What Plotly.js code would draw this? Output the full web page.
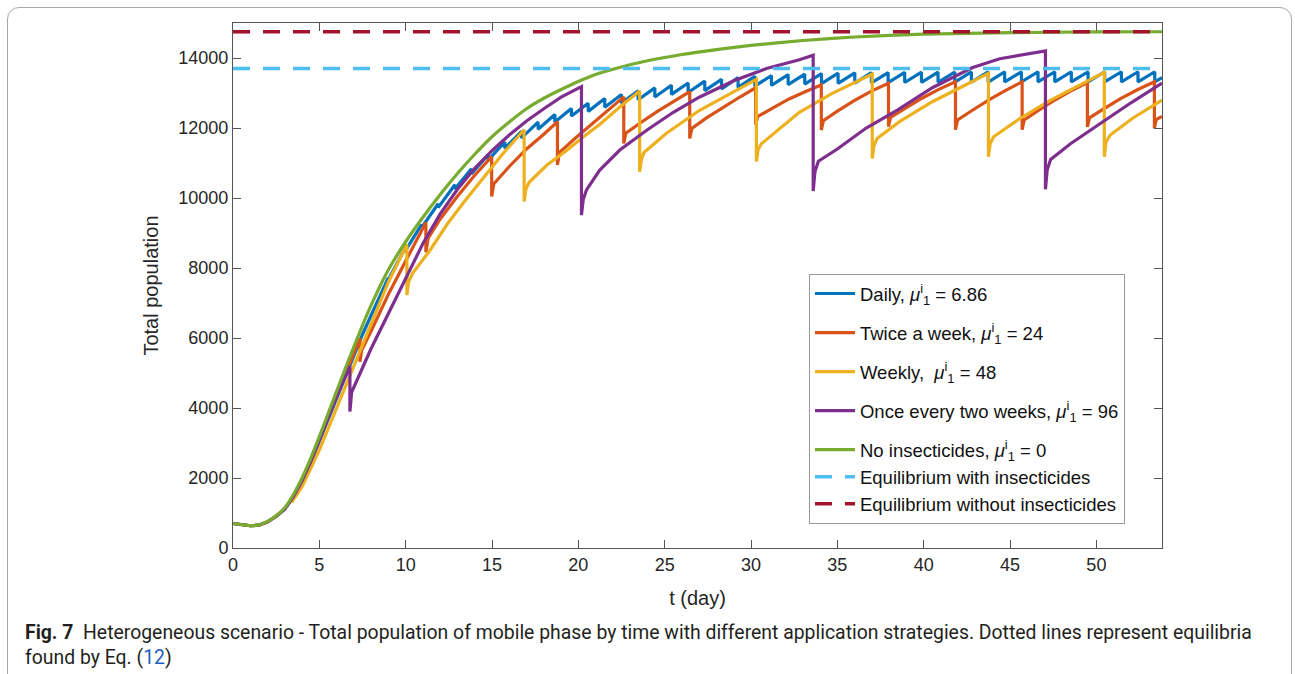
<!DOCTYPE html>
<html>
<head>
<meta charset="utf-8">
<script src="https://cdn.plot.ly/plotly-3.0.1.min.js"></script>
<style>
  html, body { margin: 0; padding: 0; background: #ffffff; }
  #frame { position: absolute; left: 7px; top: 7px; width: 1283px; height: 760px;
           border: 1px solid #a8a8a8; border-radius: 12px; z-index: 0; }
  #chart { position: absolute; left: 0; top: 0; width: 1295px; height: 674px; z-index: 1; }
</style>
</head>
<body>
<div id="frame"></div>
<div id="chart"></div>
<script>
// ---------------- data ----------------
var xMax = 53.8;

// No insecticides
var greenT = [0,0.5,1,1.5,2,2.5,3,3.5,4,4.5,5,5.5,6,6.5,7,7.5,8,9,10,11,12,13,14,15,16,17,18,19,20,21,22,24,26,28,30,33,36,40,45,50,53.8];
var greenV = [700,665,640,660,760,920,1150,1530,2000,2560,3180,3830,4480,5120,5750,6360,6940,7950,8750,9450,10100,10700,11250,11750,12170,12550,12850,13100,13330,13530,13680,13920,14100,14240,14360,14500,14600,14680,14725,14745,14750];

// Daily: smooth early part, then daily drops (time, value before, value after)
var dailyStartT = [0,0.5,1,1.5,2,2.5,3,3.5,4,4.5,5,5.5,6,6.5,7,7.5,8,8.5];
var dailyStartV = [700,662,636,652,745,900,1110,1460,1900,2440,3050,3680,4300,4930,5530,6100,6650,7180];
var dailyDropT = [8.99,9.95,10.92,11.88,12.85,13.81,14.78,15.74,16.71,17.67,18.64,19.6,20.57,21.53,22.5,23.46,24.43,25.39,26.36,27.32,28.29,29.25,30.22,31.18,32.15,33.11,34.08,35.04,36.01,36.97,37.94,38.9,39.87,40.83,41.8,42.76,43.73,44.69,45.66,46.62,47.59,48.55,49.52,50.48,51.45,52.41,53.38];
var dailyPre  = [7720,8550,9240,9835,10380,10835,11240,11600,11905,12170,12385,12560,12710,12840,12960,13060,13145,13220,13285,13340,13390,13440,13475,13500,13525,13540,13555,13565,13575,13580,13585,13590,13595,13597,13600,13601,13603,13605,13605,13607,13607,13607,13607,13607,13607,13607,13607];
var dailyPost = [7660,8470,9150,9725,10255,10695,11080,11420,11715,11965,12170,12340,12475,12595,12710,12805,12885,12960,13015,13070,13115,13160,13195,13220,13240,13255,13265,13275,13285,13290,13295,13300,13305,13307,13310,13311,13313,13315,13315,13317,13317,13317,13317,13317,13317,13317,13317];
var dailyEndT = 53.8, dailyEndV = 13440;

// Twice a week
var twiceT = [0,0.5,1,1.5,2,2.5,3,3.5,4,4.5,5,5.5,6,6.5,7,7.35, 7.35,7.45,8,9,10,11.17, 11.17,11.3,12,13,14,14.98, 14.98,15.1,16,17,18,18.79, 18.79,18.9,19.8,20.8,21.8,22.63, 22.63,22.75,23.6,24.6,25.6,26.45, 26.45,26.57,27.4,28.4,29.4,30.27, 30.27,30.39,31.2,32.2,33.2,34.07, 34.07,34.19,35,36,37,37.96, 37.96,38.08,38.9,39.9,40.9,41.84, 41.84,41.96,42.8,43.8,44.8,45.7, 45.7,45.82,46.6,47.6,48.6,49.48, 49.48,49.6,50.4,51.4,52.4,53.36, 53.36,53.46,53.8];
var twiceV = [700,662,636,652,745,905,1120,1480,1930,2480,3100,3730,4360,4980,5600,6000, 5320,5650,6200,7250,8200,9300, 8450,8850,9400,10050,10650,11180, 10040,10400,10900,11400,11820,12180, 10940,11300,11700,12120,12560,12890, 11560,11850,12150,12480,12780,13040, 11700,11990,12280,12600,12900,13150, 12090,12330,12560,12830,13050,13230, 11940,12210,12480,12790,13060,13280, 12040,12300,12550,12850,13110,13320, 11950,12230,12500,12810,13090,13320, 11950,12230,12490,12800,13080,13300, 12030,12290,12540,12840,13100,13320, 11990,12240,12330];

// Weekly
var weeklyT = [0,0.5,1,1.5,2,2.5,3,3.4, 3.4,3.5,4,5,6,7,8,9,10.07, 10.07,10.17,10.4,11.4,12.4,13.4,14.4,15.6,16.86, 16.86,16.96,17.15,18.2,19.3,20.3,21.3,22.4,23.55, 23.55,23.65,23.8,25.1,27,29,30.31, 30.31,30.41,30.6,32.8,34.7,37.02, 37.02,37.12,37.3,38.6,40.5,42.46,43.75, 43.75,43.85,44.05,45.5,47.3,49.2,50.46, 50.46,50.56,50.8,52.1,53.8];
var weeklyV = [700,662,636,652,745,905,1120,1420, 1300,1380,1750,2800,4000,5200,6400,7600,8680, 7230,7600,7850,8500,9250,9900,10500,11250,11950, 9900,10250,10450,10950,11350,11750,12130,12600,13060, 10750,11100,11300,11850,12500,13040,13390, 11040,11380,11550,12450,12990,13540, 11130,11500,11700,12180,12750,13250,13560, 11180,11550,11750,12250,12780,13270,13590, 11180,11600,11800,12280,12800];

// Once every two weeks
var biweeklyT = [0,0.5,1,1.5,2,2.5,3,3.5,4,4.5,5,5.5,6,6.77, 6.77,6.87,7.2,8,9,10,11,12,13,14,15,16,17,18,19,20.18, 20.18,20.28,20.47,21.24,22.4,24,25.5,27,29,30.9,32.8,33.6, 33.6,33.7,33.9,35,36.67,38.5,40.5,42.8,44.4,47.05, 47.05,47.15,47.35,48.5,50.17,52,53.8];
var biweeklyV = [700,662,636,652,745,905,1120,1470,1920,2460,3080,3700,4330,5200, 3900,4450,4800,5700,6700,7700,8700,9550,10250,10850,11350,11800,12200,12550,12880,13180, 9510,9950,10230,10800,11370,11950,12450,12880,13350,13700,13950,14080, 10200,10750,11050,11400,12000,12520,13150,13720,13980,14200, 10250,10800,11100,11550,12100,12720,13280];

// Equilibria
var eqWith = 13700;
var eqWithout = 14750;

// Texts
var seriesNames = [
  'Daily, <i>μ</i><sup>i</sup><sub>1</sub> = 6.86',
  'Twice a week, <i>μ</i><sup>i</sup><sub>1</sub> = 24',
  'Weekly,  <i>μ</i><sup>i</sup><sub>1</sub> = 48',
  'Once every two weeks, <i>μ</i><sup>i</sup><sub>1</sub> = 96',
  'No insecticides, <i>μ</i><sup>i</sup><sub>1</sub> = 0',
  'Equilibrium with insecticides',
  'Equilibrium without insecticides'
];
var seriesColors = ['#0072BD','#D95319','#EDB120','#7E2F8E','#77AC30','#4DBEEE','#A2142F'];
var legendGroups = ['g1','g2','g3','g4','g5','g5','g5'];
var xTicks = [0,5,10,15,20,25,30,35,40,45,50];
var yTicks = [0,2000,4000,6000,8000,10000,12000,14000];

// ---------------- build traces ----------------
var dx = dailyStartT.slice(), dy = dailyStartV.slice();
for (var k = 0; k < dailyDropT.length; k++) {
  dx.push(dailyDropT[k]); dy.push(dailyPre[k]);
  dx.push(dailyDropT[k]); dy.push(dailyPost[k]);
}
dx.push(dailyEndT); dy.push(dailyEndV);

var LW = 3.2;
function lineTrace(x, y, i, extra) {
  var t = { x: x, y: y, type: 'scatter', mode: 'lines', name: seriesNames[i],
            legendgroup: legendGroups[i],
            line: { color: seriesColors[i], width: LW }, hoverinfo: 'skip' };
  if (extra) for (var k in extra) t.line[k] = extra[k];
  return t;
}
var traces = [
  lineTrace(dx, dy, 0),
  lineTrace(twiceT, twiceV, 1),
  lineTrace(weeklyT, weeklyV, 2),
  lineTrace(biweeklyT, biweeklyV, 3),
  lineTrace(greenT, greenV, 4, { shape: 'spline', smoothing: 0.6 }),
  lineTrace([0, xMax], [eqWith, eqWith], 5, { dash: '17px,13px', width: 3.6 }),
  lineTrace([0, xMax], [eqWithout, eqWithout], 6, { dash: '17px,13px', width: 3.6 })
];

var axisFont = { family: 'Liberation Sans, Arial, sans-serif', size: 18, color: '#262626' };
var layout = {
  width: 1295, height: 674,
  margin: { l: 233, r: 133, t: 23, b: 126, pad: 0 },
  paper_bgcolor: 'rgba(0,0,0,0)',
  plot_bgcolor: '#ffffff',
  showlegend: true,
  legend: {
    x: 0.62, y: 0.522, xanchor: 'left', yanchor: 'top',
    bgcolor: '#ffffff', bordercolor: '#9a9a9a', borderwidth: 1,
    font: { family: 'Liberation Sans, Arial, sans-serif', size: 18.5, color: '#111111' },
    itemwidth: 40, tracegroupgap: 12, traceorder: 'grouped'
  },
  xaxis: {
    range: [0, xMax], tickvals: xTicks, ticktext: xTicks.map(String),
    ticks: 'inside', ticklen: 8, tickcolor: '#555555', tickwidth: 1,
    showline: true, linecolor: '#555555', linewidth: 1, mirror: 'allticks',
    showgrid: false, zeroline: false, tickfont: axisFont,
    title: { text: 't (day)', font: { family: 'Liberation Sans, Arial, sans-serif', size: 20, color: '#262626' }, standoff: 17 }
  },
  yaxis: {
    range: [0, 15000], tickvals: yTicks, ticktext: yTicks.map(String),
    ticks: 'inside', ticklen: 8, tickcolor: '#555555', tickwidth: 1,
    showline: true, linecolor: '#555555', linewidth: 1, mirror: 'allticks',
    showgrid: false, zeroline: false, tickfont: axisFont,
    title: { text: 'Total population', font: { family: 'Liberation Sans, Arial, sans-serif', size: 20, color: '#262626' }, standoff: 14 }
  },
  annotations: [
    { xref: 'paper', yref: 'paper', x: (23 - 233) / 929, y: (548 - 632) / 525,
      xanchor: 'left', yanchor: 'middle', showarrow: false, align: 'left',
      font: { family: 'Roboto, sans-serif', size: 19.4, color: '#231f20' },
      text: '<b>Fig. 7</b>  Heterogeneous scenario - Total population of mobile phase by time with different application strategies. Dotted lines represent equilibria' },
    { xref: 'paper', yref: 'paper', x: (23 - 233) / 929, y: (548 - 657) / 525,
      xanchor: 'left', yanchor: 'middle', showarrow: false, align: 'left',
      font: { family: 'Roboto, sans-serif', size: 19.4, color: '#231f20' },
      text: 'found by Eq. (<span style="color:#1f5fbf">12</span>)' }
  ]
};

Plotly.newPlot('chart', traces, layout, { staticPlot: true, displayModeBar: false });
</script>
</body>
</html>
